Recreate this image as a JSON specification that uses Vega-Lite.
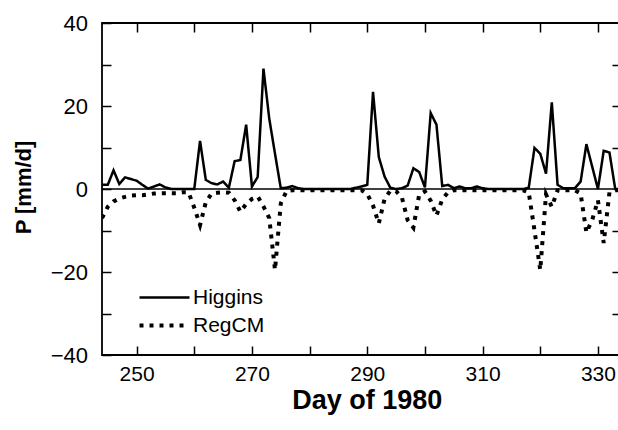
{
  "$schema": "https://vega.github.io/schema/vega-lite/v6.json",
  "width": 519,
  "height": 332,
  "autosize": {"type": "none"},
  "padding": {"left": 102, "top": 23, "right": -3, "bottom": 75},
  "background": "white",
  "config": {
    "view": {"stroke": "black", "strokeWidth": 1.8},
    "font": "Liberation Sans",
    "axis": {"domain": false, "grid": false, "tickColor": "black", "tickWidth": 1.5, "tickSize": -9, "labelColor": "black", "titleColor": "black", "labelFont": "Liberation Sans", "titleFont": "Liberation Sans"}
  },
  "datasets": {
    "series": [
      {"d":244,"s":"Higgins","p":1.0},{"d":245,"s":"Higgins","p":1.0},{"d":246,"s":"Higgins","p":4.5},{"d":247,"s":"Higgins","p":1.2},{"d":248,"s":"Higgins","p":2.8},{"d":249,"s":"Higgins","p":2.4},{"d":250,"s":"Higgins","p":2.0},{"d":251,"s":"Higgins","p":1.0},{"d":252,"s":"Higgins","p":0.1},{"d":253,"s":"Higgins","p":0.6},{"d":254,"s":"Higgins","p":1.1},{"d":255,"s":"Higgins","p":0.4},{"d":256,"s":"Higgins","p":0},{"d":257,"s":"Higgins","p":0},{"d":258,"s":"Higgins","p":0},{"d":259,"s":"Higgins","p":0},{"d":260,"s":"Higgins","p":0},{"d":261,"s":"Higgins","p":11.6},{"d":262,"s":"Higgins","p":2.2},{"d":263,"s":"Higgins","p":1.4},{"d":264,"s":"Higgins","p":1.1},{"d":265,"s":"Higgins","p":1.8},{"d":266,"s":"Higgins","p":0.3},{"d":267,"s":"Higgins","p":6.7},{"d":268,"s":"Higgins","p":7.0},{"d":269,"s":"Higgins","p":15.5},{"d":270,"s":"Higgins","p":0.6},{"d":271,"s":"Higgins","p":2.9},{"d":272,"s":"Higgins","p":29.0},{"d":273,"s":"Higgins","p":17.0},{"d":274,"s":"Higgins","p":8.5},{"d":275,"s":"Higgins","p":0.2},{"d":276,"s":"Higgins","p":0.3},{"d":277,"s":"Higgins","p":0.7},{"d":278,"s":"Higgins","p":0.2},{"d":279,"s":"Higgins","p":0},{"d":280,"s":"Higgins","p":0},{"d":281,"s":"Higgins","p":0},{"d":282,"s":"Higgins","p":0},{"d":283,"s":"Higgins","p":0},{"d":284,"s":"Higgins","p":0},{"d":285,"s":"Higgins","p":0},{"d":286,"s":"Higgins","p":0},{"d":287,"s":"Higgins","p":0},{"d":288,"s":"Higgins","p":0.3},{"d":289,"s":"Higgins","p":0.6},{"d":290,"s":"Higgins","p":1.0},{"d":291,"s":"Higgins","p":23.4},{"d":292,"s":"Higgins","p":7.7},{"d":293,"s":"Higgins","p":3.0},{"d":294,"s":"Higgins","p":0.3},{"d":295,"s":"Higgins","p":0},{"d":296,"s":"Higgins","p":0.2},{"d":297,"s":"Higgins","p":0.8},{"d":298,"s":"Higgins","p":5.0},{"d":299,"s":"Higgins","p":4.1},{"d":300,"s":"Higgins","p":0.4},{"d":301,"s":"Higgins","p":18.3},{"d":302,"s":"Higgins","p":15.5},{"d":303,"s":"Higgins","p":0.7},{"d":304,"s":"Higgins","p":1.0},{"d":305,"s":"Higgins","p":0.2},{"d":306,"s":"Higgins","p":0.6},{"d":307,"s":"Higgins","p":0.2},{"d":308,"s":"Higgins","p":0.2},{"d":309,"s":"Higgins","p":0.6},{"d":310,"s":"Higgins","p":0.2},{"d":311,"s":"Higgins","p":0},{"d":312,"s":"Higgins","p":0},{"d":313,"s":"Higgins","p":0},{"d":314,"s":"Higgins","p":0},{"d":315,"s":"Higgins","p":0},{"d":316,"s":"Higgins","p":0},{"d":317,"s":"Higgins","p":0},{"d":318,"s":"Higgins","p":0.3},{"d":319,"s":"Higgins","p":9.9},{"d":320,"s":"Higgins","p":8.5},{"d":321,"s":"Higgins","p":3.7},{"d":322,"s":"Higgins","p":20.9},{"d":323,"s":"Higgins","p":1.0},{"d":324,"s":"Higgins","p":0.2},{"d":325,"s":"Higgins","p":0.2},{"d":326,"s":"Higgins","p":0.2},{"d":327,"s":"Higgins","p":1.8},{"d":328,"s":"Higgins","p":10.8},{"d":329,"s":"Higgins","p":5.4},{"d":330,"s":"Higgins","p":0},{"d":331,"s":"Higgins","p":9.2},{"d":332,"s":"Higgins","p":8.8},{"d":333,"s":"Higgins","p":0},{"d":334,"s":"Higgins","p":0},
      {"d":244,"s":"RegCM","p":-7.0},{"d":245,"s":"RegCM","p":-4.3},{"d":246,"s":"RegCM","p":-3.0},{"d":247,"s":"RegCM","p":-2.3},{"d":248,"s":"RegCM","p":-1.9},{"d":249,"s":"RegCM","p":-1.6},{"d":250,"s":"RegCM","p":-1.5},{"d":251,"s":"RegCM","p":-1.5},{"d":252,"s":"RegCM","p":-1.3},{"d":253,"s":"RegCM","p":-1.1},{"d":254,"s":"RegCM","p":-1.0},{"d":255,"s":"RegCM","p":-1.0},{"d":256,"s":"RegCM","p":-1.0},{"d":257,"s":"RegCM","p":-1.0},{"d":258,"s":"RegCM","p":-0.8},{"d":259,"s":"RegCM","p":-0.8},{"d":260,"s":"RegCM","p":-4.5},{"d":261,"s":"RegCM","p":-8.7},{"d":262,"s":"RegCM","p":-3.2},{"d":263,"s":"RegCM","p":-1.1},{"d":264,"s":"RegCM","p":-0.9},{"d":265,"s":"RegCM","p":-0.8},{"d":266,"s":"RegCM","p":-0.9},{"d":267,"s":"RegCM","p":-2.7},{"d":268,"s":"RegCM","p":-5.5},{"d":269,"s":"RegCM","p":-3.6},{"d":270,"s":"RegCM","p":-2.4},{"d":271,"s":"RegCM","p":-1.8},{"d":272,"s":"RegCM","p":-4.2},{"d":273,"s":"RegCM","p":-7.0},{"d":274,"s":"RegCM","p":-19.5},{"d":275,"s":"RegCM","p":-3.5},{"d":276,"s":"RegCM","p":-0.5},{"d":277,"s":"RegCM","p":-0.3},{"d":278,"s":"RegCM","p":-0.3},{"d":279,"s":"RegCM","p":-0.3},{"d":280,"s":"RegCM","p":-0.3},{"d":281,"s":"RegCM","p":-0.3},{"d":282,"s":"RegCM","p":-0.3},{"d":283,"s":"RegCM","p":-0.3},{"d":284,"s":"RegCM","p":-0.3},{"d":285,"s":"RegCM","p":-0.3},{"d":286,"s":"RegCM","p":-0.3},{"d":287,"s":"RegCM","p":-0.3},{"d":288,"s":"RegCM","p":-0.3},{"d":289,"s":"RegCM","p":-0.3},{"d":290,"s":"RegCM","p":-1.2},{"d":291,"s":"RegCM","p":-4.0},{"d":292,"s":"RegCM","p":-8.3},{"d":293,"s":"RegCM","p":-2.4},{"d":294,"s":"RegCM","p":-0.4},{"d":295,"s":"RegCM","p":-0.5},{"d":296,"s":"RegCM","p":-2.0},{"d":297,"s":"RegCM","p":-7.5},{"d":298,"s":"RegCM","p":-9.3},{"d":299,"s":"RegCM","p":-1.4},{"d":300,"s":"RegCM","p":-0.6},{"d":301,"s":"RegCM","p":-2.8},{"d":302,"s":"RegCM","p":-6.4},{"d":303,"s":"RegCM","p":-2.5},{"d":304,"s":"RegCM","p":-0.8},{"d":305,"s":"RegCM","p":-0.3},{"d":306,"s":"RegCM","p":-0.3},{"d":307,"s":"RegCM","p":-0.3},{"d":308,"s":"RegCM","p":-0.3},{"d":309,"s":"RegCM","p":-0.3},{"d":310,"s":"RegCM","p":-0.3},{"d":311,"s":"RegCM","p":-0.3},{"d":312,"s":"RegCM","p":-0.3},{"d":313,"s":"RegCM","p":-0.3},{"d":314,"s":"RegCM","p":-0.3},{"d":315,"s":"RegCM","p":-0.3},{"d":316,"s":"RegCM","p":-0.3},{"d":317,"s":"RegCM","p":-0.3},{"d":318,"s":"RegCM","p":-0.8},{"d":319,"s":"RegCM","p":-10.0},{"d":320,"s":"RegCM","p":-19.5},{"d":321,"s":"RegCM","p":-1.3},{"d":322,"s":"RegCM","p":-4.3},{"d":323,"s":"RegCM","p":-0.3},{"d":324,"s":"RegCM","p":-0.3},{"d":325,"s":"RegCM","p":-0.3},{"d":326,"s":"RegCM","p":-0.3},{"d":327,"s":"RegCM","p":-1.1},{"d":328,"s":"RegCM","p":-10.5},{"d":329,"s":"RegCM","p":-7.5},{"d":330,"s":"RegCM","p":-2.7},{"d":331,"s":"RegCM","p":-13.0},{"d":332,"s":"RegCM","p":-0.8},{"d":333,"s":"RegCM","p":-0.3},{"d":334,"s":"RegCM","p":-0.3}
    ]
  },
  "resolve": {"axis": {"x": "independent", "y": "independent"}},
  "layer": [
    {
      "data": {"values": [{"z": 0}]},
      "mark": {"type": "rule", "color": "black", "strokeWidth": 1.5},
      "encoding": {
        "y": {"field": "z", "type": "quantitative", "scale": {"domain": [-40, 40], "nice": false, "zero": false},
          "axis": {"orient": "right", "values": [-30, -20, -10, 10, 20, 30], "labels": false, "title": null}}
      }
    },
    {
      "data": {"name": "series"},
      "mark": {"type": "point", "opacity": 0},
      "encoding": {
        "x": {"field": "d", "type": "quantitative", "scale": {"domain": [244, 334], "nice": false, "zero": false},
          "axis": {"orient": "top", "values": [250, 260, 270, 280, 290, 300, 310, 320, 330], "labels": false, "title": null}},
        "y": {"field": "p", "type": "quantitative", "scale": {"domain": [-40, 40], "nice": false, "zero": false}, "axis": null}
      }
    },
    {
      "data": {"name": "series"},
      "mark": {"type": "line", "color": "black", "strokeCap": "butt", "strokeJoin": "miter", "clip": true},
      "encoding": {
        "x": {"field": "d", "type": "quantitative", "scale": {"domain": [244, 334], "nice": false, "zero": false},
          "axis": {"orient": "bottom", "values": [250, 260, 270, 280, 290, 300, 310, 320, 330],
            "labelExpr": "datum.value % 20 == 10 ? datum.label : ''", "labelFontSize": 21, "labelPadding": 17, "labelFlush": false, "labelOverlap": false,
            "title": "Day of 1980", "titleFontSize": 27, "titleFontWeight": "bold", "titleX": 264.7, "titleY": 53, "titleBaseline": "alphabetic", "titleAlign": "center"}},
        "y": {"field": "p", "type": "quantitative", "scale": {"domain": [-40, 40], "nice": false, "zero": false},
          "axis": {"orient": "left", "values": [-40, -30, -20, -10, 0, 10, 20, 30, 40],
            "labelExpr": "datum.value % 20 == 0 ? datum.label : ''", "labelFontSize": 22, "labelPadding": 23.5, "labelFlush": false, "labelOverlap": false,
            "title": "P [mm/d]", "titleFontSize": 22, "titleFontWeight": "bold", "titleAngle": -90, "titleX": -72, "titleY": 164, "titleBaseline": "alphabetic", "titleAlign": "center"}},
        "strokeDash": {"field": "s", "type": "nominal", "scale": {"domain": ["Higgins", "RegCM"], "range": [[1, 0], [4, 6]]},
          "legend": {"orient": "none", "legendX": 52, "legendY": 264, "title": null, "labelFontSize": 21, "labelFont": "Liberation Sans", "labelColor": "black", "symbolSize": 100, "symbolStrokeColor": "black", "symbolType": "M-5,0H5", "rowPadding": 6, "labelOffset": 18}},
        "strokeWidth": {"field": "s", "type": "nominal", "scale": {"domain": ["Higgins", "RegCM"], "range": [2.5, 4]},
          "legend": {"orient": "none", "legendX": 52, "legendY": 264, "title": null, "labelFontSize": 21, "labelFont": "Liberation Sans", "labelColor": "black", "symbolSize": 100, "symbolStrokeColor": "black", "symbolType": "M-5,0H5", "rowPadding": 6, "labelOffset": 18}}
      }
    }
  ]
}
